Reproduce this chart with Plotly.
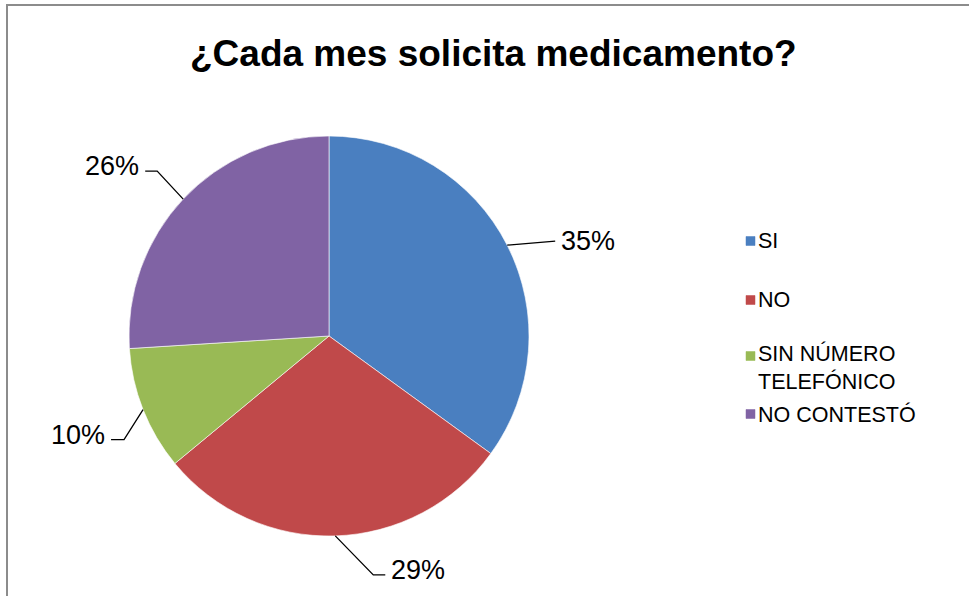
import math
import plotly.graph_objects as go

# ---- data ----
categories = ["SI", "NO", "SIN NÚMERO TELEFÓNICO", "NO CONTESTÓ"]
legend_labels = ["SI", "NO", "SIN NÚMERO<br>TELEFÓNICO", "NO CONTESTÓ"]
values = [35, 29, 10, 26]
title_text = "¿Cada mes solicita medicamento?"

# ---- styles ----
colors = ["#4A7FC0", "#C0494A", "#99BA55", "#8063A4"]
W, H = 969, 596
FONT = "Liberation Sans, Arial, sans-serif"

# pie placement (pixels)
cx, cy, r = 329, 336, 200
dom_x = [(cx - r) / W, (cx + r) / W]
dom_y = [1 - (cy + r) / H, 1 - (cy - r) / H]

# leader line offsets relative to slice edge point (elbow dx, dy, horizontal run)
leader_style = [(48, -4, 0), (38, 39, 12), (-19, 30, -13), (-26, -28, -12)]
label_gap = 4

# legend layout (pixels)
leg_x = 746
leg_sq = 9
leg_y = [241, 300, 356, 414]
leg_text_y = [241, 300, 367, 414]


def px(x):
    return x / W


def py(y):
    return 1 - y / H


fig = go.Figure()
fig.add_trace(go.Pie(
    labels=categories,
    values=values,
    sort=False,
    direction="clockwise",
    rotation=0,
    marker=dict(colors=colors, line=dict(color="rgba(255,255,255,0.6)", width=1)),
    textinfo="none",
    hoverinfo="label+percent",
    domain=dict(x=dom_x, y=dom_y),
    showlegend=False,
))

shapes = []
annotations = []

# border
shapes.append(dict(type="rect", xref="paper", yref="paper",
                   x0=px(7), x1=px(W + 10), y0=py(5), y1=py(H + 10),
                   line=dict(color="#8C8C8C", width=2), fillcolor="rgba(0,0,0,0)"))

total = sum(values)
cum = 0
for i, v in enumerate(values):
    mid = (cum + v / 2) / total * 2 * math.pi
    cum += v
    ex = cx + r * math.sin(mid)
    ey = cy - r * math.cos(mid)
    dx, dy, run = leader_style[i]
    bx, by = ex + dx, ey + dy
    fx, fy = bx + run, by
    path = f"M {px(ex)},{py(ey)} L {px(bx)},{py(by)} L {px(fx)},{py(fy)}"
    shapes.append(dict(type="path", xref="paper", yref="paper", path=path,
                       line=dict(color="black", width=1.3)))
    pct = f"{round(v / total * 100)}%"
    right = math.sin(mid) >= 0 if i != 1 else True
    tx = fx + label_gap if right else fx - label_gap
    ty = fy - (0 if i == 0 else 5)
    annotations.append(dict(xref="paper", yref="paper", x=px(tx), y=py(ty),
                            text=pct, showarrow=False,
                            xanchor="left" if right else "right", yanchor="middle",
                            font=dict(family=FONT, size=27, color="black")))

# legend
for i, lab in enumerate(legend_labels):
    yc = leg_y[i]
    shapes.append(dict(type="rect", xref="paper", yref="paper",
                       x0=px(leg_x), x1=px(leg_x + leg_sq),
                       y0=py(yc + leg_sq / 2), y1=py(yc - leg_sq / 2),
                       fillcolor=colors[i], line=dict(color=colors[i], width=0.5)))
    annotations.append(dict(xref="paper", yref="paper", x=px(leg_x + leg_sq + 1),
                            y=py(leg_text_y[i]), text=lab, showarrow=False,
                            xanchor="left", yanchor="middle", align="left",
                            font=dict(family=FONT, size=21.5, color="black")))

# title
annotations.append(dict(xref="paper", yref="paper", x=px(493), y=py(53),
                        text=f"<b>{title_text}</b>", showarrow=False,
                        xanchor="center", yanchor="middle",
                        font=dict(family=FONT, size=37, color="black")))

fig.update_layout(
    width=W, height=H,
    margin=dict(l=0, r=0, t=0, b=0),
    paper_bgcolor="white",
    plot_bgcolor="white",
    shapes=shapes,
    annotations=annotations,
    showlegend=False,
)

fig.write_html("out.html",
               config={"displayModeBar": False},
               post_script="document.body.style.margin='0px';document.body.style.overflow='hidden';")
